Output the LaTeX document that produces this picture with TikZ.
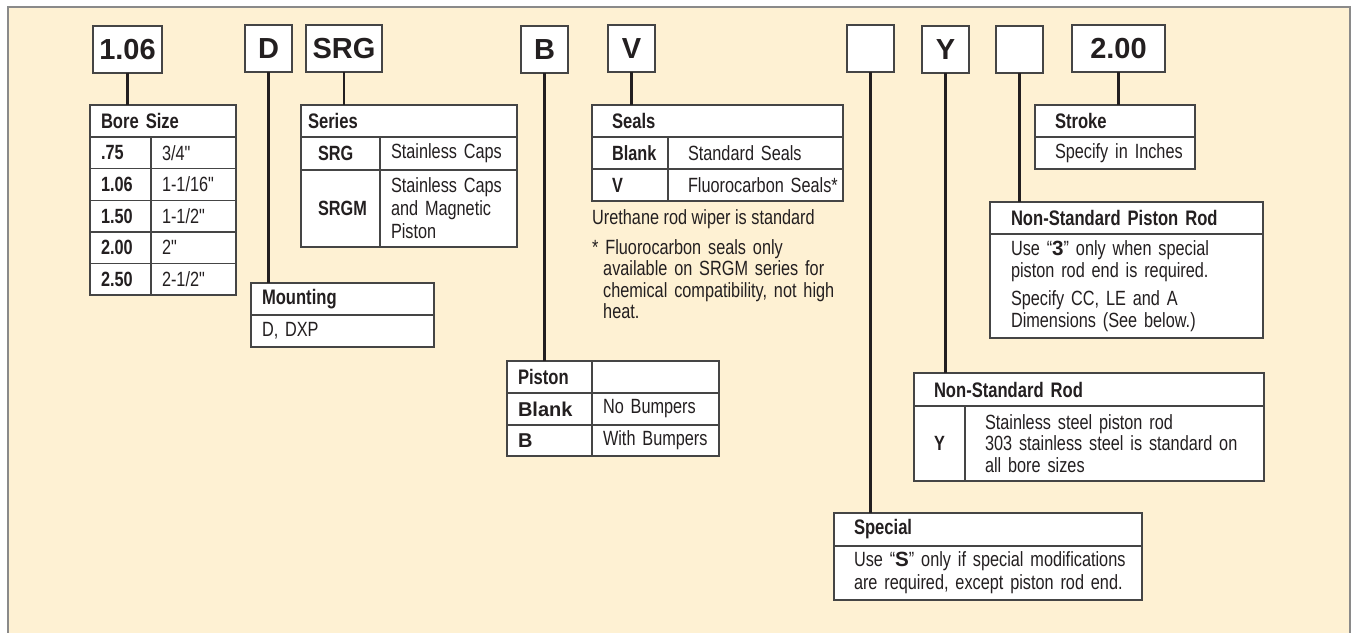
\documentclass[tikz,border=0pt]{standalone}
\usepackage{fontspec}
\setmainfont{Liberation Sans}[Ligatures=TeXOff]
\newfontfamily\cnd{Liberation Sans}[FakeStretch=0.79,Ligatures=TeXOff]
\usetikzlibrary{positioning}
\definecolor{paper}{HTML}{FEF1D3}
\definecolor{rim}{HTML}{8A8A8A}
\definecolor{ink}{HTML}{231F20}
\definecolor{grid}{HTML}{454545}

\begin{document}
\begin{tikzpicture}[x=1pt,y=-1pt,
    code/.style={draw=grid,line width=1.6pt,fill=white,minimum width=47pt,minimum height=47pt,inner sep=0pt,outer sep=0pt,text=ink,font=\bfseries\fontsize{29}{30}\selectfont},
    cell/.style={draw=grid,line width=1.4pt,fill=white,anchor=north west,inner sep=0pt,outer sep=0pt,align=left,minimum height=32pt,text=ink,font=\cnd\fontsize{20.6}{22}\selectfont,pad=11pt},
    pad/.style={execute at begin node={\leftskip=#1\relax}},
    head/.style={font=\cnd\bfseries\fontsize{21}{23}\selectfont},
    key/.style={font=\cnd\bfseries\fontsize{20.6}{22}\selectfont},
    wide/.style={font=\bfseries\fontsize{20}{22}\selectfont},
    note/.style={anchor=north west,inner sep=0pt,align=left,text=ink,font=\cnd\fontsize{20.6}{21.5}\selectfont},
    wire/.style={draw=ink,line width=2.6pt}]
  \useasboundingbox (0,0) rectangle (1351,632);
  \clip (0,0) rectangle (1351,632);
  \draw[rim,line width=1.3pt,fill=paper] (8,7) rectangle (1350,700);

  % order code
  \node[code,minimum width=69pt] (c106) at (127.5,49.5) {1.06};
  \node[code] (cmount) at (268.5,48.5) {D};
  \node[code,minimum width=76pt] (cseries) at (344,48.5) {SRG};
  \node[code] (cpiston) at (544.5,49.5) {B};
  \node[code] (cseals) at (631.5,48.5) {V};
  \node[code] (cspecial) at (870.5,48.5) {};
  \node[code] (crod) at (945.5,49.5) {Y};
  \node[code] (crodend) at (1019.5,49.5) {};
  \node[code,minimum width=93pt] (cstroke) at (1118.5,48.5) {2.00};

  % bore size
  \node[cell,head,text width=146pt] (bore) at (90,105) {Bore Size};
  \foreach \sz/\inch [count=\i] in {.75/{3/4"},1.06/{1-1/16"},1.50/{1-1/2"},2.00/{2"},2.50/{2-1/2"}}{
    \node[cell,key,text width=61pt,minimum height=31.6pt] (bs\i) at (90,{137+31.6*(\i-1)}) {\sz};
    \node[cell,text width=85pt,minimum height=31.6pt,right=0pt of bs\i] (bi\i) {\inch};
  }

  % series
  \node[cell,head,text width=216pt,pad=7pt] (series) at (301,105) {Series};
  \node[cell,key,text width=79pt,minimum height=33pt,pad=17pt] (srg) at (series.south west) {SRG};
  \node[cell,text width=137pt,minimum height=33pt,right=0pt of srg] (srgtext) {Stainless Caps};
  \node[cell,key,text width=79pt,minimum height=77pt,pad=17pt] (srgm) at (srg.south west) {SRGM};
  \node[cell,text width=137pt,minimum height=77pt,font=\cnd\fontsize{20.6}{23}\selectfont,right=0pt of srgm] (srgmtext) {Stainless Caps\\and Magnetic\\Piston};

  % mounting
  \node[cell,head,text width=183pt] (mount) at (251,283) {Mounting};
  \node[cell,text width=183pt] (mountopt) at (mount.south west) {D, DXP};

  % seals
  \node[cell,head,text width=251pt,pad=20pt] (seals) at (592,105) {Seals};
  \node[cell,key,text width=76pt,pad=20pt] (sblank) at (seals.south west) {Blank};
  \node[cell,text width=175pt,pad=20pt,right=0pt of sblank] (sstd) {Standard Seals};
  \node[cell,key,text width=76pt,pad=20pt] (sv) at (sblank.south west) {V};
  \node[cell,text width=175pt,pad=20pt,right=0pt of sv] (sfluoro) {Fluorocarbon Seals*};
  \node[note] (wiper) at (592,209) {Urethane rod wiper is standard};
  \node[note,text width=250pt,pad=11pt] (fluoronote) at (592,239) {\hspace*{-11pt}* Fluorocarbon seals only\\available on SRGM series for\\chemical compatibility, not high\\heat.};

  % piston
  \node[cell,head,text width=85pt] (piston) at (507,361) {Piston};
  \node[cell,text width=127pt,right=0pt of piston] (pistonempty) {};
  \node[cell,wide,text width=85pt] (pnone) at (piston.south west) {Blank};
  \node[cell,text width=127pt,right=0pt of pnone] (pnonetext) {No Bumpers};
  \node[cell,wide,text width=85pt,minimum height=31pt] (pbump) at (pnone.south west) {B};
  \node[cell,text width=127pt,minimum height=31pt,right=0pt of pbump] (pbumptext) {With Bumpers};

  % stroke
  \node[cell,head,text width=160pt,pad=20pt] (stroke) at (1035,105) {Stroke};
  \node[cell,text width=160pt,pad=20pt] (strokeopt) at (stroke.south west) {Specify in Inches};

  % non-standard piston rod
  \node[cell,head,text width=273pt,pad=21pt] (rodend) at (990,202) {Non-Standard Piston Rod};
  \node[cell,text width=273pt,pad=21pt,minimum height=104pt,font=\cnd\fontsize{20.6}{21.5}\selectfont] (rodendopt) at (rodend.south west) {Use “{\rmfamily\bfseries 3}” only when special\\piston rod end is required.\\[7pt]Specify CC, LE and A\\Dimensions (See below.)};

  % non-standard rod
  \node[cell,head,text width=350pt,pad=20pt,minimum height=33pt] (rod) at (914,373) {Non-Standard Rod};
  \node[cell,key,text width=51pt,pad=20pt,minimum height=75pt] (rody) at (rod.south west) {Y};
  \node[cell,text width=299pt,pad=20pt,minimum height=75pt,font=\cnd\fontsize{20.6}{21.7}\selectfont,right=0pt of rody] (rodtext) {Stainless steel piston rod\\303 stainless steel is standard on\\all bore sizes};

  % special
  \node[cell,head,text width=308pt,pad=20pt,minimum height=33pt] (special) at (834,513) {Special};
  \node[cell,text width=308pt,pad=20pt,minimum height=54pt,font=\cnd\fontsize{20.6}{23}\selectfont] (specialopt) at (special.south west) {Use “{\rmfamily\bfseries S}” only if special modifications\\are required, except piston rod end.};

  % leaders
  \foreach \a/\b in {c106/bore,cmount/mount,cseries/series,cpiston/piston,cseals/seals,cspecial/special,crod/rod,crodend/rodend,cstroke/stroke}
    \draw[wire] (\a.south) -- (\a.south |- \b.north);
\end{tikzpicture}
\end{document}
